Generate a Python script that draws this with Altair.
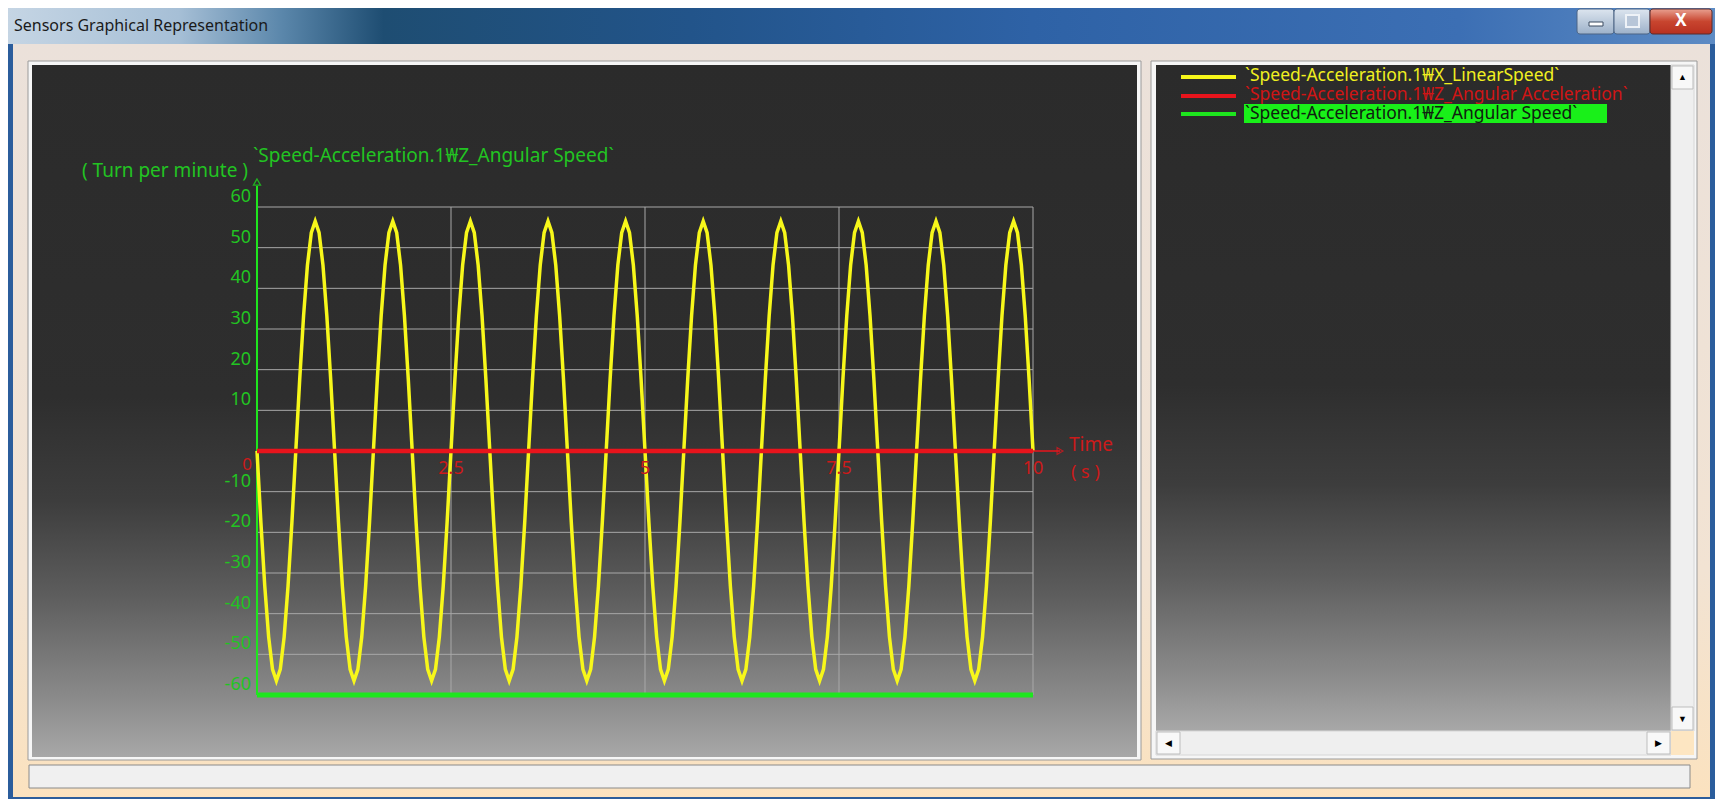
import altair as alt
import pandas as pd

# ---------------- data ----------------
TIME_STEP_S = 0.05
X_LINEAR_SPEED = [
    0, -17.5, -33.2, -45.7, -53.7, -56.5, -53.7, -45.7, -33.2, -17.5, 0, 17.5, 33.2, 45.7, 53.7, 56.5, 53.7, 45.7, 33.2, 17.5,
    0, -17.5, -33.2, -45.7, -53.7, -56.5, -53.7, -45.7, -33.2, -17.5, 0, 17.5, 33.2, 45.7, 53.7, 56.5, 53.7, 45.7, 33.2, 17.5,
    0, -17.5, -33.2, -45.7, -53.7, -56.5, -53.7, -45.7, -33.2, -17.5, 0, 17.5, 33.2, 45.7, 53.7, 56.5, 53.7, 45.7, 33.2, 17.5,
    0, -17.5, -33.2, -45.7, -53.7, -56.5, -53.7, -45.7, -33.2, -17.5, 0, 17.5, 33.2, 45.7, 53.7, 56.5, 53.7, 45.7, 33.2, 17.5,
    0, -17.5, -33.2, -45.7, -53.7, -56.5, -53.7, -45.7, -33.2, -17.5, 0, 17.5, 33.2, 45.7, 53.7, 56.5, 53.7, 45.7, 33.2, 17.5,
    0, -17.5, -33.2, -45.7, -53.7, -56.5, -53.7, -45.7, -33.2, -17.5, 0, 17.5, 33.2, 45.7, 53.7, 56.5, 53.7, 45.7, 33.2, 17.5,
    0, -17.5, -33.2, -45.7, -53.7, -56.5, -53.7, -45.7, -33.2, -17.5, 0, 17.5, 33.2, 45.7, 53.7, 56.5, 53.7, 45.7, 33.2, 17.5,
    0, -17.5, -33.2, -45.7, -53.7, -56.5, -53.7, -45.7, -33.2, -17.5, 0, 17.5, 33.2, 45.7, 53.7, 56.5, 53.7, 45.7, 33.2, 17.5,
    0, -17.5, -33.2, -45.7, -53.7, -56.5, -53.7, -45.7, -33.2, -17.5, 0, 17.5, 33.2, 45.7, 53.7, 56.5, 53.7, 45.7, 33.2, 17.5,
    0, -17.5, -33.2, -45.7, -53.7, -56.5, -53.7, -45.7, -33.2, -17.5, 0, 17.5, 33.2, 45.7, 53.7, 56.5, 53.7, 45.7, 33.2, 17.5,
    0,
]
TIME_S = [round(i * TIME_STEP_S, 2) for i in range(len(X_LINEAR_SPEED))]

Z_ANG_ACC_T = [0, 10]
Z_ANG_ACC = [0, 0]
Z_ANG_SPEED_T = [0, 10]
Z_ANG_SPEED = [-60, -60]

X_TICKS = [0, 2.5, 5, 7.5, 10]
X_TICK_LABELS = ["0", "2.5", "5", "7.5", "10"]
Y_TICKS = [60, 50, 40, 30, 20, 10, 0, -10, -20, -30, -40, -50, -60]

SERIES = [
    "`Speed-Acceleration.1₩X_LinearSpeed`",
    "`Speed-Acceleration.1₩Z_Angular Acceleration`",
    "`Speed-Acceleration.1₩Z_Angular Speed`",
]
WINDOW_TITLE = "Sensors Graphical Representation"
Y_TITLE = "( Turn per minute )"
X_TITLE = ["Time", "( s )"]

# ---------------- styling ----------------
FONT = "Noto Sans"
YELLOW = "#f7f71a"
RED = "#e8141c"
GREEN = "#1ee61e"
GREEN_T = "#22c422"
RED_T = "#cc1a1a"
GRID = "#a8a8a8"

OX, OY = 257, 207          # page position of the plot origin (x=0, y=60)
W, H = 776, 488
one = alt.Data(values=[{"k": 0}])

xs = alt.Scale(domain=[0, 10], nice=False, zero=False)
ys = alt.Scale(domain=[-60, 60], nice=False, zero=False)


def vx(x):
    return x - OX


def vy(y):
    return y - OY


def vgrad(stops):
    return alt.LinearGradient(gradient="linear",
                              stops=[alt.GradientStop(offset=o, color=c) for o, c in stops],
                              x1=0, x2=0, y1=0, y2=1)


def hgrad(stops):
    return alt.LinearGradient(gradient="linear",
                              stops=[alt.GradientStop(offset=o, color=c) for o, c in stops],
                              x1=0, x2=1, y1=0, y2=0)


def box(x1, y1, x2, y2, fill, stroke=None, sw=1, radius=0):
    kw = dict(fill=fill, strokeWidth=sw)
    if stroke:
        kw["stroke"] = stroke
    if radius:
        kw["cornerRadius"] = radius
    return alt.Chart(one).mark_rect(**kw).encode(
        x=alt.value(vx(x1)), x2=alt.value(vx(x2)),
        y=alt.value(vy(y1)), y2=alt.value(vy(y2)))


def txt(s, x, y, color, size, align="left", weight="normal"):
    return alt.Chart(one).mark_text(
        text=s, color=color, fontSize=size, align=align, baseline="middle",
        font=FONT, fontWeight=weight).encode(x=alt.value(vx(x)), y=alt.value(vy(y)))


def hline(x1, x2, y, color, sw):
    return alt.Chart(one).mark_rule(color=color, strokeWidth=sw).encode(
        x=alt.value(vx(x1)), x2=alt.value(vx(x2)), y=alt.value(vy(y)))


def y0():
    return alt.Y(datum=0, scale=ys, axis=None)


PANEL = vgrad([(0, "#2b2b2b"), (0.48, "#2e2e2e"), (0.63, "#3d3d3d"),
               (0.77, "#5e5e5e"), (0.92, "#8c8c8c"), (1, "#a8a8a8")])
BTN = vgrad([(0, "#dce5ef"), (1, "#9db1c9")])

layers = []
# window frame
layers.append(box(8, 8, 1715, 799, "#2b5d9c"))
layers.append(box(8, 8, 1715, 44, hgrad([(0, "#c5d5e4"), (0.1, "#a6bfd6"), (0.16, "#5b87ab"),
                                         (0.22, "#1e4d72"), (0.4, "#22548a"), (0.6, "#2e62a6"),
                                         (0.85, "#3c6fb4"), (1, "#5d8bc4")])))
layers.append(box(13, 44, 1710, 797, vgrad([(0, "#ebe1da"), (0.7, "#f2e3d3"), (1, "#fbe2bf")])))
layers.append(txt(WINDOW_TITLE, 14, 26, "#1a1a1a", 16))
# title bar buttons
layers.append(box(1577, 9, 1614, 34, BTN, stroke="#4d6585", radius=3))
layers.append(box(1589, 22, 1603, 26, "#ffffff", stroke="#3a4a60"))
layers.append(box(1614, 9, 1650, 34, BTN, stroke="#4d6585", radius=3))
layers.append(box(1626, 15, 1639, 27, "#b8c6d8", stroke="#eef2f7", sw=2))
layers.append(box(1650, 9, 1712, 34, vgrad([(0, "#e8a090"), (0.5, "#c8452f"), (1, "#b83020")]),
                  stroke="#5a2a2a", radius=3))
layers.append(txt("X", 1681, 21, "#ffffff", 17, align="center", weight="bold"))
# left (plot) panel
layers.append(box(28, 61, 1141, 760, "#f6f6f6", stroke="#9a9a9a"))
layers.append(box(32, 65, 1137, 757, PANEL))
# right (legend) panel
layers.append(box(1151, 61, 1697, 759, "#f6f6f6", stroke="#9a9a9a"))
layers.append(box(1156, 65, 1671, 731, PANEL))
layers.append(box(1671, 65, 1694, 731, "#efefef", stroke="#d6d6d6"))
layers.append(box(1672, 66, 1693, 89, "#f8f8f8", stroke="#bdbdbd"))
layers.append(txt("▲", 1682.5, 77, "#000000", 9, align="center"))
layers.append(box(1672, 707, 1693, 730, "#f8f8f8", stroke="#bdbdbd"))
layers.append(txt("▼", 1682.5, 718.5, "#000000", 9, align="center"))
layers.append(box(1156, 731, 1671, 755, "#efefef", stroke="#d6d6d6"))
layers.append(box(1157, 732, 1180, 754, "#f8f8f8", stroke="#bdbdbd"))
layers.append(txt("◀", 1168.5, 743, "#000000", 9, align="center"))
layers.append(box(1647, 732, 1670, 754, "#f8f8f8", stroke="#bdbdbd"))
layers.append(txt("▶", 1658.5, 743, "#000000", 9, align="center"))
layers.append(box(1671, 731, 1694, 755, "#fde6c2"))
# status bar
layers.append(box(29, 765, 1690, 788, "#f0f0f0", stroke="#8a8a8a"))

# grid
grid_h = pd.DataFrame({"v": Y_TICKS})
layers.append(alt.Chart(grid_h).mark_rule(color=GRID, strokeWidth=1).encode(
    y=alt.Y("v:Q", scale=ys, axis=None),
    x=alt.X(datum=0, scale=xs, axis=None), x2=alt.datum(10)))
grid_v = pd.DataFrame({"t": X_TICKS[1:]})
layers.append(alt.Chart(grid_v).mark_rule(color=GRID, strokeWidth=1).encode(
    x=alt.X("t:Q", scale=xs, axis=None),
    y=alt.Y(datum=-60, scale=ys, axis=None), y2=alt.datum(60)))

# y axis line (green, with open arrow head at the top)
layers.append(alt.Chart(one).mark_rule(color=GREEN, strokeWidth=2).encode(
    x=alt.value(0), y=alt.value(vy(186)), y2=alt.value(H)))
layers.append(alt.Chart(one).mark_point(shape="triangle-up", filled=False, size=50,
                                        color=GREEN, strokeWidth=1.3).encode(
    x=alt.value(0), y=alt.value(vy(182))))

# data series
df_lin = pd.DataFrame({"t": TIME_S, "v": X_LINEAR_SPEED})
layers.append(alt.Chart(df_lin).mark_line(color=YELLOW, strokeWidth=3.5).encode(
    x=alt.X("t:Q", scale=xs, axis=None), y=alt.Y("v:Q", scale=ys, axis=None)))
df_acc = pd.DataFrame({"t": Z_ANG_ACC_T, "v": Z_ANG_ACC})
layers.append(alt.Chart(df_acc).mark_line(color=RED, strokeWidth=4.5).encode(
    x=alt.X("t:Q", scale=xs, axis=None), y=alt.Y("v:Q", scale=ys, axis=None)))
df_spd = pd.DataFrame({"t": Z_ANG_SPEED_T, "v": Z_ANG_SPEED})
layers.append(alt.Chart(df_spd).mark_line(color=GREEN, strokeWidth=5).encode(
    x=alt.X("t:Q", scale=xs, axis=None), y=alt.Y("v:Q", scale=ys, axis=None)))

# x axis arrow (red)
layers.append(alt.Chart(one).mark_rule(color=RED, strokeWidth=1.5).encode(
    x=alt.value(vx(1033)), x2=alt.value(vx(1060)), y=y0()))
layers.append(alt.Chart(one).mark_point(shape="triangle-right", filled=False, size=45,
                                        color=RED, strokeWidth=1.3).encode(
    x=alt.value(vx(1060)), y=y0()))

# y tick labels (green, sitting just above their grid lines)
df_yl = pd.DataFrame({"v": Y_TICKS, "lab": [str(v) for v in Y_TICKS]})
layers.append(alt.Chart(df_yl).transform_filter("datum.v != 0").mark_text(
    color=GREEN_T, fontSize=18, font=FONT, align="right", baseline="alphabetic", dy=-5).encode(
    x=alt.value(-6), y=alt.Y("v:Q", scale=ys, axis=None), text="lab:N"))

# x tick labels (red, just under the zero line)
df_xl = pd.DataFrame({"t": X_TICKS, "lab": X_TICK_LABELS})
layers.append(alt.Chart(df_xl).transform_filter("datum.t > 0").mark_text(
    color=RED_T, fontSize=18, font=FONT, align="center", baseline="middle", dy=18).encode(
    x=alt.X("t:Q", scale=xs, axis=None), y=y0(), text="lab:N"))
layers.append(alt.Chart(df_xl).transform_filter("datum.t == 0").mark_text(
    color=RED_T, fontSize=17, font=FONT, align="right", baseline="middle", dy=14, dx=-5).encode(
    x=alt.X("t:Q", scale=xs, axis=None), y=y0(), text="lab:N"))

# titles
layers.append(txt(SERIES[2], 253, 156, GREEN_T, 19))
layers.append(txt(Y_TITLE, 248, 171, GREEN_T, 19, align="right"))
layers.append(txt(X_TITLE[0], 1069, 445, RED_T, 19))
layers.append(txt(X_TITLE[1], 1071, 473, RED_T, 18))

# legend
layers.append(hline(1181, 1236, 77, YELLOW, 4))
layers.append(hline(1181, 1236, 96, RED, 4))
layers.append(hline(1181, 1236, 114, GREEN, 4))
layers.append(txt(SERIES[0], 1245, 76, "#f0f020", 17.5))
layers.append(txt(SERIES[1], 1245, 95, "#d01515", 17.5))
layers.append(box(1244, 104, 1607, 123, "#19f019"))
layers.append(txt(SERIES[2], 1245, 113.5, "#102010", 17.5))

chart = alt.layer(*layers).properties(
    width=W, height=H,
    padding={"left": OX - 8, "top": OY - 8, "right": 1707 - (OX - 8) - W, "bottom": 791 - (OY - 8) - H},
    autosize=alt.AutoSizeParams(type="none"),
    background="#ffffff",
).configure_view(stroke=None)

chart.save("out.html", embed_options={"renderer": "svg", "actions": False})
